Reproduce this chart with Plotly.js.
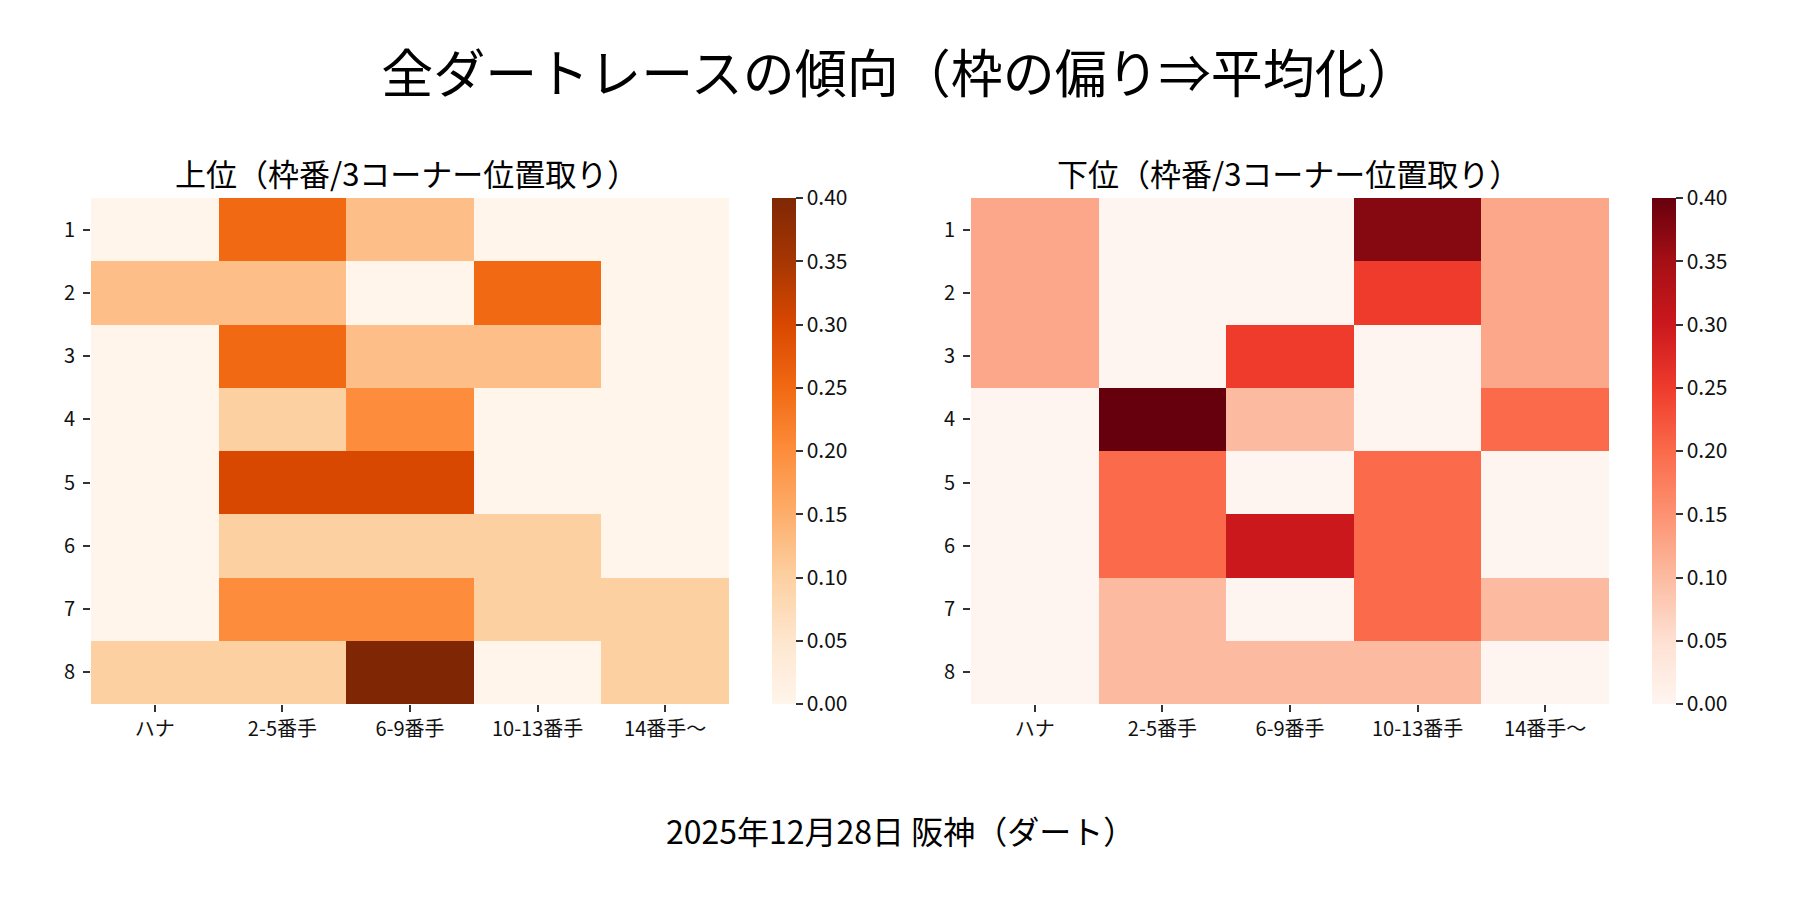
<!DOCTYPE html>
<html>
<head>
<meta charset="utf-8">
<script src="https://cdn.plot.ly/plotly-3.0.1.min.js"></script>
<style>
  html, body { margin: 0; padding: 0; background: #fff; }
  #chart { width: 1800px; height: 900px; }
</style>
</head>
<body>
<div id="chart"></div>
<script>
// categories
var positions = ['ハナ', '2-5番手', '6-9番手', '10-13番手', '14番手〜'];
var gates = ['1', '2', '3', '4', '5', '6', '7', '8'];

// upper finishers (rows = gate 1..8, cols = position)
var upperValues = [
    [0.000, 0.250, 0.125, 0.000, 0.000],
    [0.125, 0.125, 0.000, 0.250, 0.000],
    [0.000, 0.250, 0.125, 0.125, 0.000],
    [0.000, 0.100, 0.200, 0.000, 0.000],
    [0.000, 0.300, 0.300, 0.000, 0.000],
    [0.000, 0.100, 0.100, 0.100, 0.000],
    [0.000, 0.200, 0.200, 0.100, 0.100],
    [0.100, 0.100, 0.400, 0.000, 0.100]
];

// lower finishers
var lowerValues = [
    [0.125, 0.000, 0.000, 0.375, 0.125],
    [0.125, 0.000, 0.000, 0.250, 0.125],
    [0.125, 0.000, 0.250, 0.000, 0.125],
    [0.000, 0.400, 0.100, 0.000, 0.200],
    [0.000, 0.200, 0.000, 0.200, 0.000],
    [0.000, 0.200, 0.300, 0.200, 0.000],
    [0.000, 0.100, 0.000, 0.200, 0.100],
    [0.000, 0.100, 0.100, 0.100, 0.000]
];

var colorbarTicks = [0, 0.05, 0.10, 0.15, 0.20, 0.25, 0.30, 0.35, 0.40];

// matplotlib Oranges / Reds
function brewerScale(cols) {
    return cols.map(function (c, i) { return [i / (cols.length - 1), c]; });
}
var orangesScale = brewerScale(['#fff5eb', '#fee6ce', '#fdd0a2', '#fdae6b', '#fd8d3c',
                                '#f16913', '#d94801', '#a63603', '#7f2704']);
var redsScale = brewerScale(['#fff5f0', '#fee0d2', '#fcbba1', '#fc9272', '#fb6a4a',
                             '#ef3b2c', '#cb181d', '#a50f15', '#67000d']);

var FONT = '"Noto Sans CJK JP", "Noto Sans", sans-serif';
var yBottom = 1 - 704 / 900, yTop = 1 - 198 / 900;

function colorbar(xPos) {
    return {
        x: xPos, xanchor: 'left', y: yBottom, yanchor: 'bottom', xpad: 0, ypad: 0,
        len: yTop - yBottom, lenmode: 'fraction', thickness: 24,
        outlinewidth: 0, ticks: 'outside', ticklen: 7, tickwidth: 2, tickcolor: '#333',
        tickvals: colorbarTicks, ticktext: colorbarTicks.map(function (v) { return v.toFixed(2); }),
        tickfont: {family: FONT, size: 21, color: '#111'}
    };
}

var trace1 = {
    type: 'heatmap', x: positions, y: gates, z: upperValues,
    colorscale: orangesScale, zmin: 0, zmax: 0.4,
    xaxis: 'x', yaxis: 'y', colorbar: colorbar(772 / 1800), hoverinfo: 'skip'
};
var trace2 = {
    type: 'heatmap', x: positions, y: gates, z: lowerValues,
    colorscale: redsScale, zmin: 0, zmax: 0.4,
    xaxis: 'x2', yaxis: 'y2', colorbar: colorbar(1652 / 1800), hoverinfo: 'skip'
};

function xAxis(domain, anchor) {
    return {domain: domain, anchor: anchor, showgrid: false, zeroline: false, showline: false,
            ticks: 'outside', ticklen: 7, tickwidth: 2, tickcolor: '#333',
            tickfont: {family: FONT, size: 20, color: '#111'}, fixedrange: true};
}
function yAxis(anchor) {
    return {domain: [yBottom, yTop], anchor: anchor, autorange: 'reversed',
            showgrid: false, zeroline: false, showline: false,
            ticks: 'outside', ticklen: 7, tickwidth: 2, tickcolor: '#333', ticklabelstandoff: 4,
            tickfont: {family: FONT, size: 20, color: '#111'}, fixedrange: true};
}

var layout = {
    width: 1800, height: 900,
    margin: {l: 0, r: 0, t: 0, b: 0},
    paper_bgcolor: '#fff', plot_bgcolor: '#fff',
    font: {family: FONT, color: '#111'},
    title: {text: '全ダートレースの傾向（枠の偏り⇒平均化）', font: {family: FONT, size: 52, color: '#000'},
            x: 0.5, xanchor: 'center', y: 1 - 75 / 900, yanchor: 'middle'},
    xaxis: xAxis([91 / 1800, 729 / 1800], 'y'),
    yaxis: yAxis('x'),
    xaxis2: xAxis([971 / 1800, 1609 / 1800], 'y2'),
    yaxis2: yAxis('x2'),
    annotations: [
        {text: '上位（枠番/3コーナー位置取り）', xref: 'paper', yref: 'paper', x: 406 / 1800, y: 1 - 173 / 900,
         xanchor: 'center', yanchor: 'middle', showarrow: false, font: {family: FONT, size: 31, color: '#000'}},
        {text: '下位（枠番/3コーナー位置取り）', xref: 'paper', yref: 'paper', x: 1288 / 1800, y: 1 - 173 / 900,
         xanchor: 'center', yanchor: 'middle', showarrow: false, font: {family: FONT, size: 31, color: '#000'}},
        {text: '2025年12月28日 阪神（ダート）', xref: 'paper', yref: 'paper', x: 0.5, y: 1 - 830 / 900,
         xanchor: 'center', yanchor: 'middle', showarrow: false, font: {family: FONT, size: 32, color: '#000'}}
    ]
};

Plotly.newPlot('chart', [trace1, trace2], layout, {displayModeBar: false, staticPlot: true});
</script>
</body>
</html>
